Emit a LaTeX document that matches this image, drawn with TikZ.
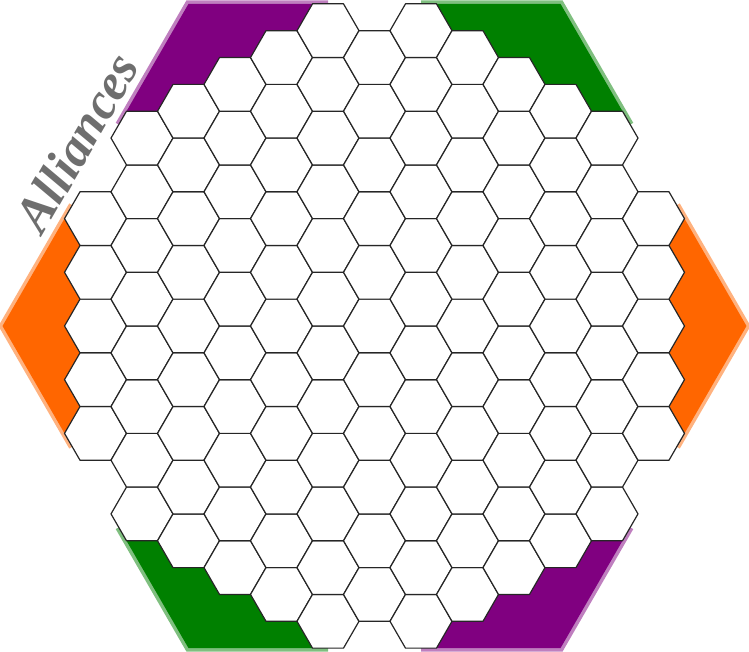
\documentclass[tikz,border=0pt]{standalone}
\usepackage{fontspec}
\usepackage{tikz}
\newfontfamily\boardfont{Liberation Serif}
\definecolor{allyorange}{HTML}{FF6600}
\definecolor{allypurple}{HTML}{800080}
\definecolor{allygreen}{HTML}{008000}
\definecolor{labelgray}{HTML}{6E6E6E}
\newcommand{\hexh}{0.8660254}

\begin{document}
\begin{tikzpicture}[x=31pt, y=31pt,
  hexcell/.style={draw=black!85, fill=white, line width=1.2pt, line join=round},
  zone/.style={fill=#1, draw=#1, draw opacity=0.5, line width=7pt}]
  \useasboundingbox (-12.081,-10.516) rectangle (12.081,10.516);
  % corner zones, the same shape turned round the board
  \foreach \ang/\col in {0/allyorange, -60/allypurple, -120/allygreen,
                         180/allyorange, 120/allypurple, 60/allygreen}
    \draw[zone=\col, rotate=\ang]
      (-9.75,{4.5*\hexh}) -- (-12,0) -- (-9.75,{-4.5*\hexh})
      -- (-10,{-4*\hexh}) -- (-9.5,{-3*\hexh}) -- (-10,{-2*\hexh})
      -- (-9.5,{-\hexh}) -- (-10,0) -- (-9.5,{\hexh})
      -- (-10,{2*\hexh}) -- (-9.5,{3*\hexh}) -- (-10,{4*\hexh}) -- cycle;
  % board cells, column by column
  \foreach \c/\m in {-6/4, -5/7, -4/8, -3/9, -2/10, -1/11, 0/10,
                     1/11, 2/10, 3/9, 4/8, 5/7, 6/4}
    \foreach \k in {0,...,\m}
      \draw[hexcell] ({1.5*\c},{(2*\k-\m)*\hexh})
        +(0:1) -- +(60:1) -- +(120:1) -- +(180:1) -- +(240:1) -- +(300:1) -- cycle;
  \node[rotate=60, anchor=base, inner sep=0pt, text=labelgray,
        font=\boardfont\bfseries\itshape\fontsize{51}{51}\selectfont]
    (title) at (-9.12,5.64) {Alliances};
\end{tikzpicture}
\end{document}
